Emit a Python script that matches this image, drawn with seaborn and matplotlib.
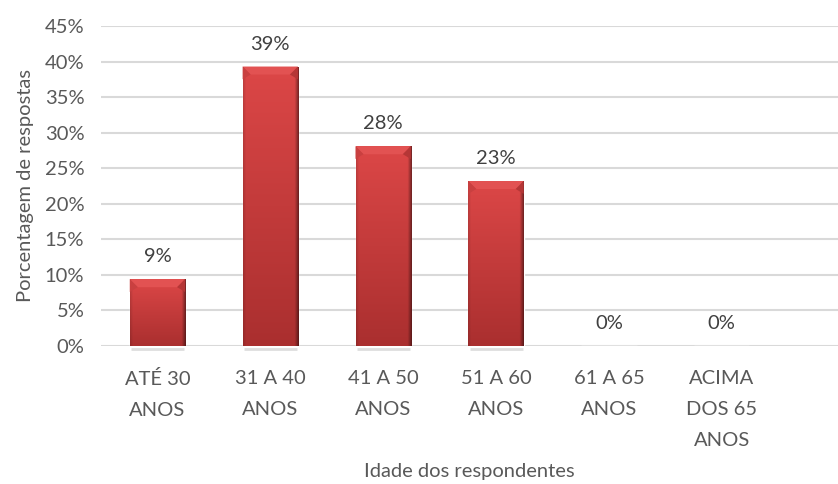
import numpy as np
import pandas as pd
import matplotlib
matplotlib.use("Agg")
import matplotlib.pyplot as plt
import seaborn as sns
from matplotlib.colors import to_rgb
from matplotlib.patches import Polygon

categories = ["ATÉ 30\nANOS", "31 A 40\nANOS", "41 A 50\nANOS", "51 A 60\nANOS",
              "61 A 65\nANOS", "ACIMA\nDOS 65\nANOS"]
values = [9.4, 39.3, 28.1, 23.2, 0.0, 0.0]
y_ticks = [0, 5, 10, 15, 20, 25, 30, 35, 40, 45]
x_title = "Idade dos respondentes"
y_title = "Porcentagem de respostas"

sns.set_theme(style="white")
plt.rcParams["font.family"] = ["Lato", "DejaVu Sans"]

FS = 14.5
W, H = 838, 484
fig = plt.figure(figsize=(W / 100, H / 100), dpi=100)
ax = fig.add_axes([101 / W, 138 / H, (838 - 101) / W, 320 / H])

df = pd.DataFrame({"faixa": categories, "pct": values})
sns.barplot(data=df, x="faixa", y="pct", color="#c83a3a", width=0.49,
            saturation=1, ax=ax, zorder=3)

ax.set_ylim(0, 45)
ax.set_xlim(-0.5, 6.03)
ax.set_yticks(y_ticks)
ax.set_yticklabels([f"{t}%" for t in y_ticks])
ax.yaxis.grid(True, color="#d9d9d9", linewidth=1.5, zorder=0)
ax.set_axisbelow(True)
for s in ["top", "right", "left", "bottom"]:
    ax.spines[s].set_visible(False)
ax.tick_params(axis="both", length=0, labelsize=FS, colors="#595959")
ax.tick_params(axis="y", pad=12)
ax.tick_params(axis="x", pad=17)
for lbl in ax.get_xticklabels():
    lbl.set_linespacing(2.0)
    lbl.set_verticalalignment("top")

ax.set_xlabel(x_title, fontsize=FS, color="#595959", labelpad=10)
ax.set_ylabel(y_title, fontsize=FS, color="#595959", labelpad=8)

# gradient fill and bevel on each bar
top_c = np.array(to_rgb("#dc4747"))
bot_c = np.array(to_rgb("#aa2f2f"))
ny, nx = 120, 60
v = np.linspace(0, 1, ny)[:, None, None]
base = top_c * (1 - v) + bot_c * v
xs = np.linspace(0, 1, nx)
shade = np.ones(nx)
shade = shade - 0.45 * np.clip((xs - 0.93) / 0.07, 0, 1)
shade = shade - 0.12 * np.clip((0.05 - xs) / 0.05, 0, 1)
img = np.clip(base * shade[None, :, None], 0, 1)

px_x = 6.53 / 737.0
px_y = 45.0 / 320.0
for patch, val in zip(ax.patches, values):
    if val <= 0:
        continue
    x0, w, h = patch.get_x(), patch.get_width(), patch.get_height()
    im = ax.imshow(img, extent=[x0, x0 + w, 0, h], aspect="auto",
                   origin="upper", zorder=3.5, interpolation="bilinear")
    im.set_clip_path(patch)
    dx, dy = 8 * px_x, 8 * px_y
    bevel = Polygon([[x0, h], [x0 + w, h], [x0 + w - dx, h - dy], [x0 + dx, h - dy]],
                    closed=True, facecolor="#e25252", edgecolor="none", zorder=4)
    ax.add_patch(bevel)
    right = Polygon([[x0 + w, h], [x0 + w, h - dy * 1.6], [x0 + w - dx, h - dy]],
                    closed=True, facecolor="#b53636", edgecolor="none", zorder=4)
    left = Polygon([[x0, h], [x0, h - dy * 1.6], [x0 + dx, h - dy]],
                   closed=True, facecolor="#c94040", edgecolor="none", zorder=4)
    ax.add_patch(right)
    ax.add_patch(left)
    # soft shadow under the bar
    ax.plot([x0 + 0.01, x0 + w - 0.01], [-0.45, -0.45], color="#c8c8c8",
            linewidth=2, alpha=0.6, zorder=2, clip_on=False, solid_capstyle="butt")

for i, val in enumerate(values):
    ax.annotate(f"{val:.0f}%", xy=(i, val), xytext=(0, 10), textcoords="offset points",
                ha="center", va="bottom", fontsize=FS, color="#404040", zorder=5)

fig.savefig("out.png", dpi=100)
